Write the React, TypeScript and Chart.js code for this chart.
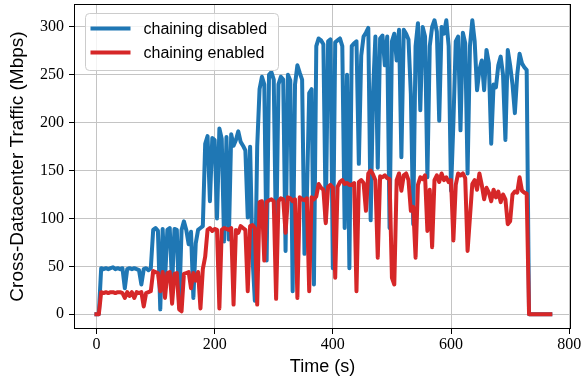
import React, { useEffect, useRef } from "react";
import { Chart, registerables } from "chart.js";

Chart.register(...registerables);

// ---------------- data ----------------
const timeSeconds = [
  0, 4, 8, 12, 16, 20, 24, 28, 32, 36,
  40, 44, 48, 52, 56, 60, 64, 68, 72, 76,
  80, 84, 88, 92, 96, 100, 104, 108, 112, 116,
  120, 124, 128, 132, 136, 140, 144, 148, 152, 156,
  160, 164, 168, 172, 176, 180, 184, 188, 192, 196,
  200, 204, 208, 212, 216, 220, 224, 228, 232, 236,
  240, 244, 248, 252, 256, 260, 264, 268, 272, 276,
  280, 284, 288, 292, 296, 300, 304, 308, 312, 316,
  320, 324, 328, 332, 336, 340, 344, 348, 352, 356,
  360, 364, 368, 372, 376, 380, 384, 388, 392, 396,
  400, 404, 408, 412, 416, 420, 424, 428, 432, 436,
  440, 444, 448, 452, 456, 460, 464, 468, 472, 476,
  480, 484, 488, 492, 496, 500, 504, 508, 512, 516,
  520, 524, 528, 532, 536, 540, 544, 548, 552, 556,
  560, 564, 568, 572, 576, 580, 584, 588, 592, 596,
  600, 604, 608, 612, 616, 620, 624, 628, 632, 636,
  640, 644, 648, 652, 656, 660, 664, 668, 672, 676,
  680, 684, 688, 692, 696, 700, 704, 708, 712, 716,
  720, 724, 728, 732, 736, 740, 744, 748, 752, 756,
  760, 764, 768,
];

const chainingDisabledMbps = [
  0, 0, 48, 47, 48, 47, 48, 49, 47, 48,
  47, 48, 27, 47, 48, 47, 48, 47, 46, 31,
  47, 48, 46, 48, 88, 90, 87, 5, 89, 35,
  88, 90, 30, 89, 88, 7, 88, 97, 88, 73,
  86, 17, 74, 88, 90, 92, 178, 186, 118, 184,
  182, 100, 194, 183, 76, 185, 78, 188, 176, 182,
  191, 180, 176, 171, 101, 175, 60, 14, 175, 235,
  248, 240, 56, 250, 253, 245, 68, 240, 248, 245,
  66, 250, 244, 24, 240, 260, 252, 245, 63, 120,
  231, 235, 31, 280, 288, 286, 282, 97, 285, 287,
  48, 284, 286, 288, 280, 90, 250, 48, 280, 283,
  285, 157, 270, 290, 294, 299, 98, 231, 290, 153,
  288, 291, 260, 290, 90, 285, 293, 265, 297, 164,
  297, 293, 287, 230, 94, 280, 304, 213, 300, 290,
  143, 280, 300, 307, 295, 202, 300, 293, 307, 280,
  129, 200, 285, 290, 192, 294, 283, 147, 280, 307,
  285, 234, 255, 265, 234, 276, 262, 178, 240, 237,
  260, 269, 250, 182, 276, 260, 240, 210, 250, 272,
  262, 258, 255, 0, 0, 0, 0, 0, 0, 0,
  0, 0, 0,
];

const chainingEnabledMbps = [
  0, 0, 23, 22, 23, 22, 23, 23, 22, 23,
  23, 22, 17, 23, 19, 23, 17, 23, 22, 23,
  8, 22, 23, 24, 45, 44, 43, 24, 44, 17,
  43, 44, 11, 42, 43, 5, 3, 42, 43, 44,
  27, 43, 35, 44, 6, 47, 60, 88, 90, 87,
  89, 88, 6, 88, 90, 89, 88, 90, 10, 88,
  85, 92, 90, 88, 24, 92, 93, 90, 10, 117,
  118, 56, 117, 119, 120, 118, 16, 118, 121, 120,
  85, 122, 121, 118, 120, 17, 122, 120, 119, 121,
  24, 122, 120, 123, 136, 132, 130, 95, 133, 135,
  132, 38, 133, 138, 140, 136, 137, 135, 135, 137,
  24, 138, 140, 137, 108, 147, 150, 146, 140, 59,
  144, 143, 145, 142, 141, 38, 31, 140, 147, 129,
  145, 147, 140, 108, 112, 59, 135, 143, 141, 145,
  87, 130, 70, 140, 145, 138, 147, 140, 143, 138,
  140, 77, 135, 147, 145, 147, 142, 66, 101, 136,
  140, 130, 147, 135, 120, 132, 127, 118, 130, 122,
  128, 117, 125, 120, 94, 97, 125, 128, 127, 143,
  129, 127, 126, 0, 0, 0, 0, 0, 0, 0,
  0, 0, 0,
];

const seriesLabels = ["chaining disabled", "chaining enabled"];
const seriesColors = ["#1f77b4", "#d62728"];
const xTickValues = [0, 200, 400, 600, 800];
const yTickValues = [0, 50, 100, 150, 200, 250, 300];
const xTitle = "Time (s)";
const yTitle = "Cross-Datacenter Traffic (Mbps)";

const SANS = '"Liberation Sans", "DejaVu Sans", sans-serif';
const SERIF = '"Liberation Serif", "DejaVu Serif", serif';

export default function App() {
  const canvasRef = useRef<HTMLCanvasElement | null>(null);

  useEffect(() => {
    const canvas = canvasRef.current;
    if (!canvas) return;

    const toPoints = (ys: number[]) =>
      timeSeconds.map((t, i) => ({ x: t, y: ys[i] }));

    const framePlugin = {
      id: "frameAndLegend",
      afterDatasetsDraw(chart: any) {
        const { ctx, chartArea: a } = chart;
        ctx.save();
        // spines
        ctx.strokeStyle = "#000";
        ctx.lineWidth = 1;
        const l = Math.round(a.left) + 0.5;
        const t = Math.round(a.top) + 0.5;
        const r = Math.round(a.right) - 0.5;
        const b = Math.round(a.bottom) - 0.5;
        ctx.strokeRect(l, t, r - l, b - t);

        // legend
        const lx = Math.round(a.left) + 11.5;
        const ly = Math.round(a.top) + 9.5;
        const lw = 193;
        const lh = 57;
        ctx.beginPath();
        if ((ctx as any).roundRect) {
          (ctx as any).roundRect(lx, ly, lw, lh, 4);
        } else {
          ctx.rect(lx, ly, lw, lh);
        }
        ctx.fillStyle = "rgba(255,255,255,0.8)";
        ctx.fill();
        ctx.strokeStyle = "#cccccc";
        ctx.lineWidth = 1;
        ctx.stroke();

        ctx.font = `16px ${SANS}`;
        ctx.textBaseline = "middle";
        ctx.textAlign = "left";
        seriesLabels.forEach((label, i) => {
          const cy = ly + 15 + i * 24;
          ctx.beginPath();
          ctx.moveTo(lx + 5, cy);
          ctx.lineTo(lx + 45, cy);
          ctx.strokeStyle = seriesColors[i];
          ctx.lineWidth = 4;
          ctx.lineCap = "butt";
          ctx.stroke();
          ctx.fillStyle = "#000";
          ctx.fillText(label, lx + 58, cy + 1);
        });
        ctx.restore();
      },
    };

    const gridOpts = {
      color: "#c4c4c4",
      lineWidth: 1,
      tickColor: "#000",
      tickLength: 5,
      drawTicks: true,
    };

    const chart = new Chart(canvas, {
      type: "line",
      data: {
        datasets: [
          {
            label: seriesLabels[0],
            data: toPoints(chainingDisabledMbps),
            borderColor: seriesColors[0],
            backgroundColor: seriesColors[0],
            borderWidth: 4,
            pointRadius: 0,
            tension: 0,
            order: 1,
            borderJoinStyle: "round",
            borderCapStyle: "square",
          },
          {
            label: seriesLabels[1],
            data: toPoints(chainingEnabledMbps),
            borderColor: seriesColors[1],
            backgroundColor: seriesColors[1],
            borderWidth: 4,
            pointRadius: 0,
            tension: 0,
            order: 0,
            borderJoinStyle: "round",
            borderCapStyle: "square",
          },
        ],
      },
      options: {
        responsive: false,
        animation: false,
        events: [],
        layout: { padding: { top: 4, right: 13, left: 0, bottom: 0 } },
        plugins: {
          legend: { display: false },
          tooltip: { enabled: false },
        },
        scales: {
          x: {
            type: "linear",
            min: -38,
            max: 803,
            afterBuildTicks: (s: any) => {
              s.ticks = xTickValues.map((v) => ({ value: v }));
            },
            afterFit: (s: any) => {
              s.height = 50;
              s.paddingLeft = 0;
              s.paddingRight = 0;
              s.paddingTop = 0;
              s.paddingBottom = 0;
            },
            grid: gridOpts,
            border: { display: false },
            ticks: {
              color: "#000",
              font: { family: SERIF, size: 16 },
              padding: 1,
              maxRotation: 0,
              autoSkip: false,
              callback: (v: any) => String(v),
            },
            title: {
              display: true,
              text: xTitle,
              color: "#000",
              font: { family: SANS, size: 18 },
              padding: { top: 0, bottom: 1 },
            },
          },
          y: {
            type: "linear",
            min: -15.5,
            max: 324,
            afterBuildTicks: (s: any) => {
              s.ticks = yTickValues.map((v) => ({ value: v }));
            },
            afterFit: (s: any) => {
              s.width = 74;
              s.paddingLeft = 0;
              s.paddingRight = 0;
              s.paddingTop = 0;
              s.paddingBottom = 0;
            },
            grid: gridOpts,
            border: { display: false },
            ticks: {
              color: "#000",
              font: { family: SERIF, size: 16 },
              padding: 5,
              autoSkip: false,
              callback: (v: any) => String(v),
            },
            title: {
              display: true,
              text: yTitle,
              color: "#000",
              font: { family: SANS, size: 19 },
              padding: { top: 6, bottom: 0 },
            },
          },
        },
      },
      plugins: [framePlugin],
    } as any);

    return () => {
      chart.destroy();
    };
  }, []);

  return (
    <div
      style={{
        position: "fixed",
        left: 0,
        top: 0,
        width: 584,
        height: 379,
        background: "#fff",
      }}
    >
      <canvas
        ref={canvasRef}
        width={584}
        height={379}
        style={{ display: "block", width: 584, height: 379 }}
      />
    </div>
  );
}
